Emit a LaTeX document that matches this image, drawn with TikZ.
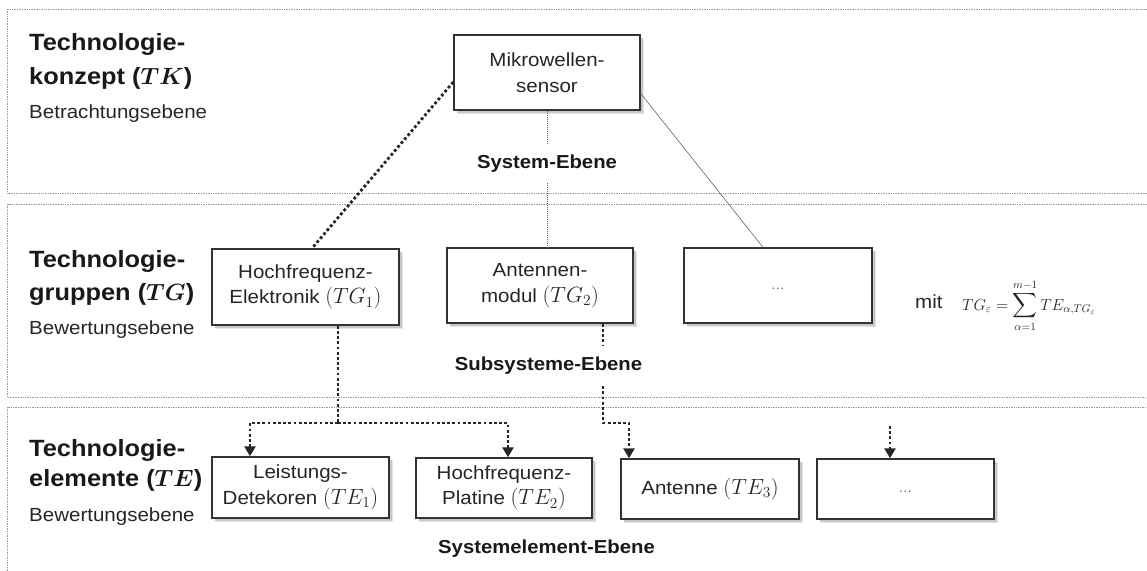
\RequirePackage{fix-cm}
\documentclass[tikz,border=0pt]{standalone}
\usepackage{exscale}
\usepackage{fontspec}
\setmainfont{Liberation Sans}[FakeStretch=1.08]
\usetikzlibrary{arrows.meta,shadows,calc}

\definecolor{ink}{HTML}{262626}
\definecolor{frame}{HTML}{333333}
\definecolor{bandline}{HTML}{9A9A9A}

% symbols inside box labels are set a bit larger than the text
\newcommand\mth[1]{{\fontsize{22}{24}\selectfont$#1$}}

\tikzset{
  band/.style={draw=bandline, line width=0.8pt, dash pattern=on 1pt off 0.7pt},
  box/.style={draw=frame, line width=1.4pt, fill=white, rectangle, align=center,
    text=ink, font=\fontsize{19}{25.5}\selectfont, inner sep=0pt,
    drop shadow={opacity=1, shadow xshift=4pt, shadow yshift=-4pt, fill=black!10},
    drop shadow={opacity=1, shadow xshift=2.5pt, shadow yshift=-2.5pt, fill=black!22},
    drop shadow={opacity=1, shadow xshift=1.3pt, shadow yshift=-1.3pt, fill=black!40}},
  head/.style={anchor=base west, inner sep=0pt, text=black!90,
    font=\fontsize{23.5}{28}\selectfont\bfseries},
  sub/.style={anchor=base west, inner sep=0pt, text=ink,
    font=\fontsize{19}{23}\selectfont},
  level/.style={anchor=base, fill=white, inner xsep=3pt, inner ysep=0pt,
    minimum height=38pt, text=black!90,
    font=\fontsize{18.8}{22}\selectfont\bfseries},
  thickdots/.style={draw=ink, line width=2.8pt, dash pattern=on 2.8pt off 2.4pt},
  thindots/.style={draw=black!60, line width=0.7pt, dash pattern=on 1pt off 1pt},
  thinline/.style={draw=black!55, line width=0.7pt},
  tip/.style={-{Triangle[width=11pt,length=10pt]}},
  dotsfont/.style={font=\fontsize{13}{15}\selectfont, text=black!60}
}

\begin{document}
\begin{tikzpicture}[x=1pt,y=-1pt]
\useasboundingbox (0,0) rectangle (1147,570);

% level bands
\draw[band] (7.5,9) rectangle (1170,193);
\draw[band] (7.5,204) rectangle (1170,397.5);
\draw[band] (7.5,407) rectangle (1170,600);

% level headings
\node[head] (hTKa) at (29,50) {Technologie-};
\node[head] (hTKb) at (29,84) {konzept ({\boldmath$TK$})};
\node[sub]  (hTKc) at (29,118) {Betrachtungsebene};

\node[head] (hTGa) at (29,267) {Technologie-};
\node[head] (hTGb) at (29,300) {gruppen ({\boldmath$TG$})};
\node[sub]  (hTGc) at (29,334) {Bewertungsebene};

\node[head] (hTEa) at (29,456) {Technologie-};
\node[head] (hTEb) at (29,486) {elemente ({\boldmath$TE$})};
\node[sub]  (hTEc) at (29,521) {Bewertungsebene};

% system level
\node[box, minimum width=186pt, minimum height=75pt] (sensor) at (547,72.5)
  {Mikrowellen-\\sensor};

% subsystem level
\node[box, minimum width=187pt, minimum height=76pt] (tg1) at (305.5,287)
  {Hochfrequenz-\\Elektronik \mth{(TG_1)}};
\node[box, minimum width=186pt, minimum height=75pt] (tg2) at (540,285.5)
  {Antennen-\\modul \mth{(TG_2)}};
\node[box, minimum width=188pt, minimum height=75pt] (tgx) at (778,285.5) {};
\node[dotsfont] (tgxdots) at (778,289) {\dots};

% system element level
\node[box, minimum width=177pt, minimum height=61pt] (te1) at (300.5,487.5)
  {Leistungs-\\Detekoren \mth{(TE_1)}};
\node[box, minimum width=176pt, minimum height=60pt] (te2) at (504,488)
  {Hochfrequenz-\\Platine \mth{(TE_2)}};
\node[box, minimum width=178pt, minimum height=60pt] (te3) at (710,489)
  {Antenne \mth{(TE_3)}};
\node[box, minimum width=177pt, minimum height=60pt] (tex) at (905.5,489) {};
\node[dotsfont] (texdots) at (905.5,492) {\dots};

% formula
\node[sub] (mit) at (915,308) {mit};
\node[anchor=base west, inner sep=0pt, text=ink, font=\fontsize{16}{18}\selectfont]
  (formula) at (962,310)
  {$TG_{\varepsilon} = \displaystyle\sum_{\alpha=1}^{m-1} TE_{\alpha,TG_{\varepsilon}}$};

% connectors
\draw[thickdots] ([yshift=-9.5pt]sensor.west) -- ([xshift=6.5pt]tg1.north);
\draw[thindots] (sensor.south) -- (sensor.south |- tg2.north);
\draw[thinline] ([yshift=-21pt]sensor.east) -- ([xshift=-15pt]tgx.north);

\coordinate (j1) at (338,423);
\draw[thickdots] (tg1.south -| j1) -- (j1);
\draw[thickdots,tip] (j1) -| ([xshift=-50.5pt]te1.north);
\draw[thickdots,tip] (j1) -| ([xshift=4pt]te2.north);

\coordinate (j2) at (603,423);
\draw[thickdots,tip] (tg2.south -| j2) -- (j2) -| ([xshift=-81pt]te3.north);

\coordinate (j3) at (890,426);
\draw[thickdots,tip] (j3) -- (j3 |- tex.north);

% level names
\node[level] (lsys) at (547,168) {System-Ebene};
\node[level] (lsub) at (548.5,370) {Subsysteme-Ebene};
\node[level] (lel)  at (546.5,553) {Systemelement-Ebene};
\end{tikzpicture}
\end{document}
